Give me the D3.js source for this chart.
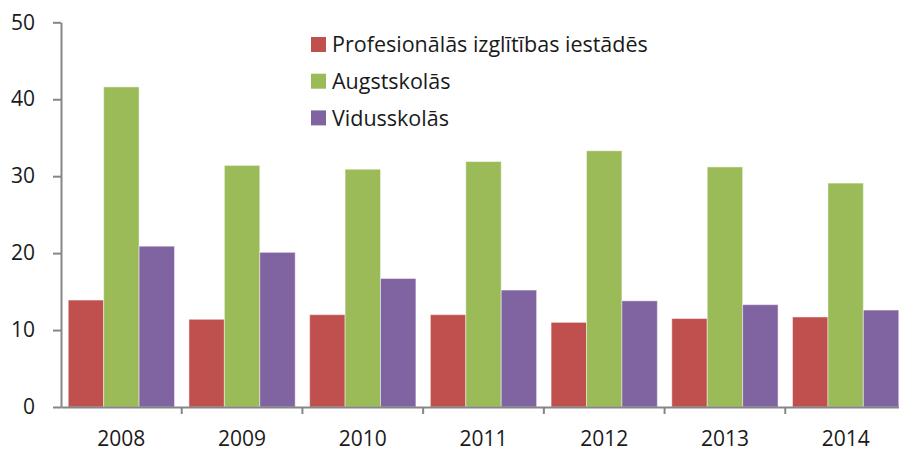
<!DOCTYPE html>
<html>
<head>
<meta charset="utf-8">
<script src="https://cdn.jsdelivr.net/npm/d3@7"></script>
<style>
  body { margin: 0; background: #fff; }
  svg text { font-family: "Open Sans", "Noto Sans", sans-serif; fill: #1a1a1a; }
</style>
</head>
<body>
<div id="chart"></div>
<script>
// data
const years = ["2008", "2009", "2010", "2011", "2012", "2013", "2014"];
const seriesNames = ["Profesionālās izglītības iestādēs", "Augstskolās", "Vidusskolās"];
const profesionalas = [13.9, 11.4, 12.0, 12.0, 11.0, 11.5, 11.7];
const augstskolas = [41.6, 31.4, 30.9, 31.9, 33.3, 31.2, 29.1];
const vidusskolas = [20.9, 20.1, 16.7, 15.2, 13.8, 13.3, 12.6];
const yTicks = [0, 10, 20, 30, 40, 50];
const colors = ["#C0504D", "#9BBB59", "#8064A2"];

const width = 899, height = 451;
const svg = d3.select("#chart").append("svg")
  .attr("width", width)
  .attr("height", height);

const x0 = d3.scaleBand().domain(years).range([61, 906]).paddingInner(0.12).paddingOuter(0.06);
const x1 = d3.scaleBand().domain(d3.range(3)).range([0, x0.bandwidth()]);
const y = d3.scaleLinear().domain([0, 50]).range([407, 22.3]);

const table = years.map((yr, i) => ({
  year: yr,
  values: [profesionalas[i], augstskolas[i], vidusskolas[i]]
}));

// bars
const groups = svg.append("g").selectAll("g")
  .data(table)
  .join("g")
  .attr("transform", d => `translate(${x0(d.year)},0)`);

groups.selectAll("rect")
  .data(d => d.values.map((v, k) => ({ k, v })))
  .join("rect")
  .attr("x", d => x1(d.k))
  .attr("y", d => y(d.v))
  .attr("width", x1.bandwidth())
  .attr("height", d => y(0) - y(d.v))
  .attr("fill", d => colors[d.k])
  .attr("stroke", "rgba(255,255,255,0.45)")
  .attr("stroke-width", 1);

// y axis
svg.append("g")
  .attr("transform", "translate(61,0)")
  .call(d3.axisLeft(y).tickValues(yTicks).tickSize(8).tickPadding(18).tickSizeOuter(0));

// x axis, ticks at category boundaries
const xAxis = svg.append("g")
  .attr("transform", "translate(0,407)")
  .call(d3.axisBottom(x0).tickSize(0).tickPadding(24));

const step = x0.step();
xAxis.selectAll(".boundary")
  .data(years.slice(1))
  .join("line")
  .attr("class", "boundary")
  .attr("x1", d => x0(d) - step * 0.06)
  .attr("x2", d => x0(d) - step * 0.06)
  .attr("y1", 0)
  .attr("y2", 7);

svg.selectAll(".domain, .tick line, .boundary")
  .attr("stroke", "#868686")
  .attr("stroke-width", 2);
svg.selectAll(".tick text")
  .attr("font-size", 21)
  .attr("fill", "#1a1a1a")
  .style("font-family", "\"Open Sans\", \"Noto Sans\", sans-serif");

// legend
const legend = svg.append("g").attr("transform", "translate(311,37)");
const items = legend.selectAll("g")
  .data(seriesNames)
  .join("g")
  .attr("transform", (d, i) => `translate(0,${i * 36.7})`);
items.append("rect")
  .attr("width", 15)
  .attr("height", 15)
  .attr("fill", (d, i) => colors[i]);
items.append("text")
  .attr("x", 21)
  .attr("y", 7.5)
  .attr("dy", "0.36em")
  .attr("font-size", 21.5)
  .text(d => d);
</script>
</body>
</html>
